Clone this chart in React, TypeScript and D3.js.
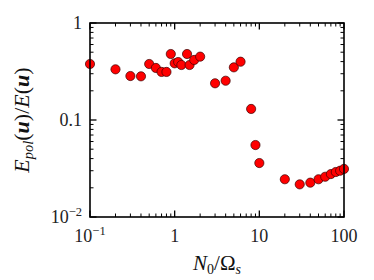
import React from "react";
import * as d3 from "d3";

// N0/Omega_s values and the polarised energy fraction
const ratio = [0.1, 0.2, 0.3, 0.4, 0.5, 0.6, 0.7, 0.8, 0.9, 1.0, 1.1, 1.2, 1.4, 1.5, 1.7, 2, 3, 4, 5, 6, 8, 9, 10, 20, 30, 40, 50, 60, 70, 80, 90, 100];
const epolFrac = [0.378, 0.333, 0.284, 0.282, 0.378, 0.344, 0.313, 0.313, 0.479, 0.384, 0.396, 0.369, 0.479, 0.369, 0.416, 0.45, 0.239, 0.254, 0.349, 0.399, 0.13, 0.0552, 0.036, 0.0245, 0.0217, 0.0226, 0.0245, 0.026, 0.0277, 0.0291, 0.03, 0.0313];

const xMajor = [0.1, 1, 10, 100];
const xLabels = [["10", "−1"], ["1", ""], ["10", ""], ["100", ""]];
const yMajor = [0.01, 0.1, 1];
const yLabels = [["10", "−2"], ["0.1", ""], ["1", ""]];

const W = 374;
const H = 280;
const margin = { top: 23, right: 30, bottom: 63, left: 90 };
const font = "'Liberation Serif', 'DejaVu Serif', serif";

export default function App() {
  const x = d3.scaleLog().domain([0.1, 100]).range([margin.left, W - margin.right]);
  const y = d3.scaleLog().domain([0.01, 1]).range([H - margin.bottom, margin.top]);
  const [x0, x1] = x.range();
  const [y0, y1] = y.range();

  const xMinor = x.ticks().filter((t) => !xMajor.some((m) => Math.abs(m - t) / m < 1e-6));
  const yMinor = y.ticks().filter((t) => !yMajor.some((m) => Math.abs(m - t) / m < 1e-6));

  const pts = ratio.map((r, i) => ({ r, v: epolFrac[i] }));

  return (
    <svg width={W} height={H} style={{ position: "absolute", left: 0, top: 0, background: "#fff" }} fontFamily={font}>
      {/* minor ticks */}
      {xMinor.map((t) => (
        <g key={"xm" + t} stroke="#000" strokeWidth={1}>
          <line x1={x(t)} x2={x(t)} y1={y0} y2={y0 - 3.5} />
          <line x1={x(t)} x2={x(t)} y1={y1} y2={y1 + 3.5} />
        </g>
      ))}
      {yMinor.map((t) => (
        <g key={"ym" + t} stroke="#000" strokeWidth={1}>
          <line x1={x0} x2={x0 + 3.5} y1={y(t)} y2={y(t)} />
          <line x1={x1} x2={x1 - 3.5} y1={y(t)} y2={y(t)} />
        </g>
      ))}
      {/* major ticks */}
      {xMajor.map((t) => (
        <g key={"xM" + t} stroke="#000" strokeWidth={1.3}>
          <line x1={x(t)} x2={x(t)} y1={y0} y2={y0 - 6.5} />
          <line x1={x(t)} x2={x(t)} y1={y1} y2={y1 + 6.5} />
        </g>
      ))}
      {yMajor.map((t) => (
        <g key={"yM" + t} stroke="#000" strokeWidth={1.3}>
          <line x1={x0} x2={x0 + 6.5} y1={y(t)} y2={y(t)} />
          <line x1={x1} x2={x1 - 6.5} y1={y(t)} y2={y(t)} />
        </g>
      ))}

      {pts.map((p, i) => (
        <circle key={i} cx={x(p.r)} cy={y(p.v)} r={4.6} fill="#ff0000" stroke="#3a0000" strokeWidth={0.7} />
      ))}

      <rect x={x0} y={y1} width={x1 - x0} height={y0 - y1} fill="none" stroke="#000" strokeWidth={1.6} />

      {/* tick labels */}
      {xMajor.map((t, i) => (
        <text key={"xl" + t} x={x(t)} y={y0 + 25} textAnchor="middle" fontSize={18} fill="#222">
          {xLabels[i][0]}
          {xLabels[i][1] && <tspan dy={-7} fontSize={12.5}>{xLabels[i][1]}</tspan>}
        </text>
      ))}
      {yMajor.map((t, i) => (
        <text key={"yl" + t} x={x0 - 8} y={y(t) + 6} textAnchor="end" fontSize={18} fill="#222">
          {yLabels[i][0]}
          {yLabels[i][1] && <tspan dy={-7} fontSize={12.5}>{yLabels[i][1]}</tspan>}
        </text>
      ))}

      {/* axis titles */}
      <text x={(x0 + x1) / 2} y={270} textAnchor="middle" fontSize={21} fill="#111">
        <tspan fontStyle="italic">N</tspan>
        <tspan dy={4} fontSize={14}>0</tspan>
        <tspan dy={-4}>/Ω</tspan>
        <tspan dy={4} fontSize={14} fontStyle="italic">s</tspan>
      </text>
      <text transform={`translate(29,${(y0 + y1) / 2}) rotate(-90)`} textAnchor="middle" fontSize={22} fill="#111">
        <tspan fontStyle="italic">E</tspan>
        <tspan dy={4} fontSize={14.5} fontStyle="italic">pol</tspan>
        <tspan dy={-4}>(</tspan>
        <tspan fontStyle="italic" fontWeight="bold">u</tspan>
        <tspan>)/</tspan>
        <tspan fontStyle="italic">E</tspan>
        <tspan>(</tspan>
        <tspan fontStyle="italic" fontWeight="bold">u</tspan>
        <tspan>)</tspan>
      </text>
    </svg>
  );
}
